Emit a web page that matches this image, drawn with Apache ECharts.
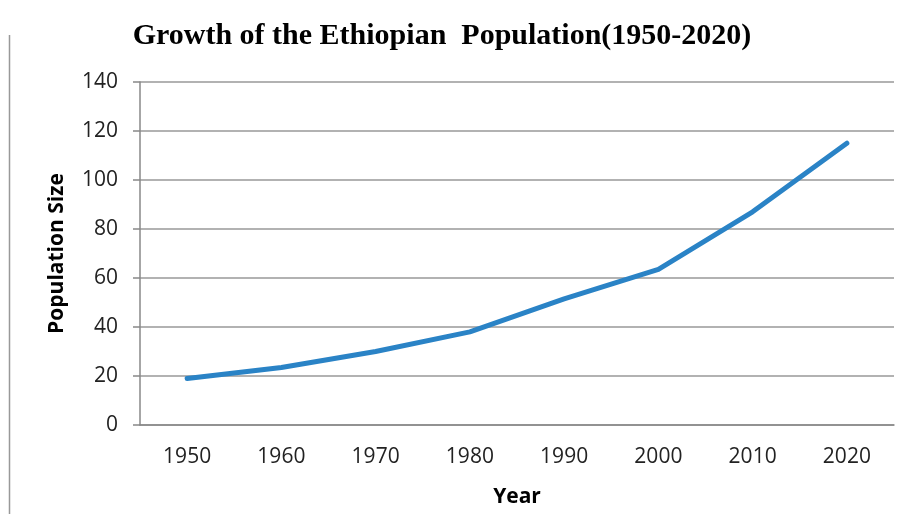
<!DOCTYPE html>
<html>
<head>
<meta charset="utf-8">
<script src="https://cdn.jsdelivr.net/npm/echarts@6/dist/echarts.min.js"></script>
<style>html,body{margin:0;padding:0;background:#fff;}#c{width:909px;height:514px;}</style>
</head>
<body>
<div id="c"></div>
<script>
const years = ['1950','1960','1970','1980','1990','2000','2010','2020'];
const population = [19, 23.5, 30, 38, 51.5, 63.5, 87, 115];
const yTicks = {min: 0, max: 140, interval: 20};

const chart = echarts.init(document.getElementById('c'));
chart.setOption({
  animation: false,
  backgroundColor: '#fff',
  title: {
    text: 'Growth of the Ethiopian  Population(1950-2020)',
    left: 437, top: 16, textAlign: 'center',
    textStyle: {fontFamily: 'Liberation Serif', fontWeight: 'bold', fontSize: 30, color: '#000'}
  },
  graphic: [{
    type: 'line', shape: {x1: 9.5, y1: 35, x2: 9.5, y2: 514},
    style: {stroke: '#999', lineWidth: 1.5}
  }],
  grid: {left: 140, right: 15, top: 82, bottom: 89},
  xAxis: {
    type: 'category', data: years, boundaryGap: true,
    name: 'Year', nameLocation: 'middle', nameGap: 62,
    nameTextStyle: {fontFamily: 'Open Sans', fontWeight: 'bold', fontSize: 21, color: '#000'},
    axisLine: {lineStyle: {color: '#888', width: 1.5}},
    axisTick: {show: false},
    axisLabel: {margin: 22, fontFamily: 'Open Sans', fontSize: 21, color: '#222'}
  },
  yAxis: {
    type: 'value', min: yTicks.min, max: yTicks.max, interval: yTicks.interval,
    name: 'Population Size', nameLocation: 'middle', nameGap: 72,
    nameTextStyle: {fontFamily: 'Open Sans', fontWeight: 'bold', fontSize: 21, color: '#000'},
    axisLine: {show: true, lineStyle: {color: '#888', width: 1.5}},
    axisTick: {show: true, length: 7, lineStyle: {color: '#888', width: 1.5}},
    axisLabel: {margin: 22, fontFamily: 'Open Sans', fontSize: 21, color: '#222'},
    splitLine: {lineStyle: {color: '#999', width: 1.5}}
  },
  series: [{
    type: 'line', data: population, symbol: 'none', smooth: false,
    lineStyle: {color: '#2A83C6', width: 5, cap: 'round', join: 'round'}
  }]
});
</script>
</body>
</html>
